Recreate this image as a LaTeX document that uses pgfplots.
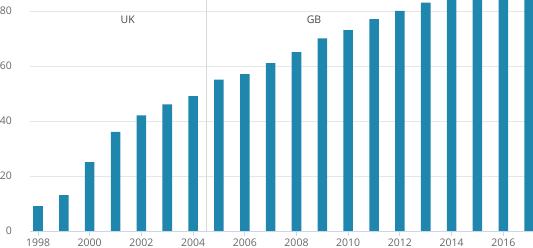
\documentclass[border=0pt]{standalone}
\usepackage{pgfplots}
\pgfplotsset{compat=1.18}
\usepackage{fontspec}
\setmainfont{Open Sans}
\definecolor{cBar}{HTML}{1F86AE}
\definecolor{cGrid}{HTML}{E6E6E6}
\definecolor{cAxis}{HTML}{CCD6EB}
\definecolor{cLab}{HTML}{666666}
\definecolor{cTxt}{HTML}{444444}
\definecolor{cVline}{HTML}{D8D8D8}
\begin{document}
\begin{tikzpicture}
\begin{axis}[
  at={(0,0)}, anchor=south west,
  scale only axis, width=503pt, height=231pt,
  xmin=1997.69, xmax=2017.15, ymin=0, ymax=84,
  axis lines*=left,
  x axis line style={draw=cAxis, line width=0.8pt},
  y axis line style={draw=none},
  ymajorgrids, grid style={draw=cGrid, line width=0.8pt},
  ytick={0,20,40,60,80},
  xtick={1998,2000,...,2016},
  tick align=outside,
  xtick style={draw=cAxis, line width=0.8pt},
  ytick style={draw=none},
  major tick length=5pt,
  /pgf/number format/1000 sep={},
  /pgf/number format/assume math mode=true,
  tick label style={font=\fontsize{10.5}{12}\selectfont, text=cLab},
  yticklabel style={anchor=east, inner sep=0pt, xshift=-13pt},
  xticklabel style={anchor=north, inner sep=0pt, yshift=-3pt},
  ybar, bar width=0.37,
]
\draw[cVline, line width=0.9pt] (axis cs:2004.5,0) -- (axis cs:2004.5,84);
\addplot[fill=cBar, draw=none] coordinates {
(1998,9) (1999,13) (2000,25) (2001,36) (2002,42) (2003,46) (2004,49)
(2005,55) (2006,57) (2007,61) (2008,65) (2009,70) (2010,73) (2011,77)
(2012,80) (2013,83) (2014,84) (2015,86) (2016,88) (2017,90)
};
\node[text=cTxt, font=\fontsize{10.5}{12}\selectfont] at (axis cs:2001.47,76.7) {UK};
\node[text=cTxt, font=\fontsize{10.5}{12}\selectfont] at (axis cs:2008.68,76.7) {GB};
\end{axis}
\pgfresetboundingbox
\path (-30pt,-17pt) rectangle (503pt,231pt);
\end{tikzpicture}
\end{document}
